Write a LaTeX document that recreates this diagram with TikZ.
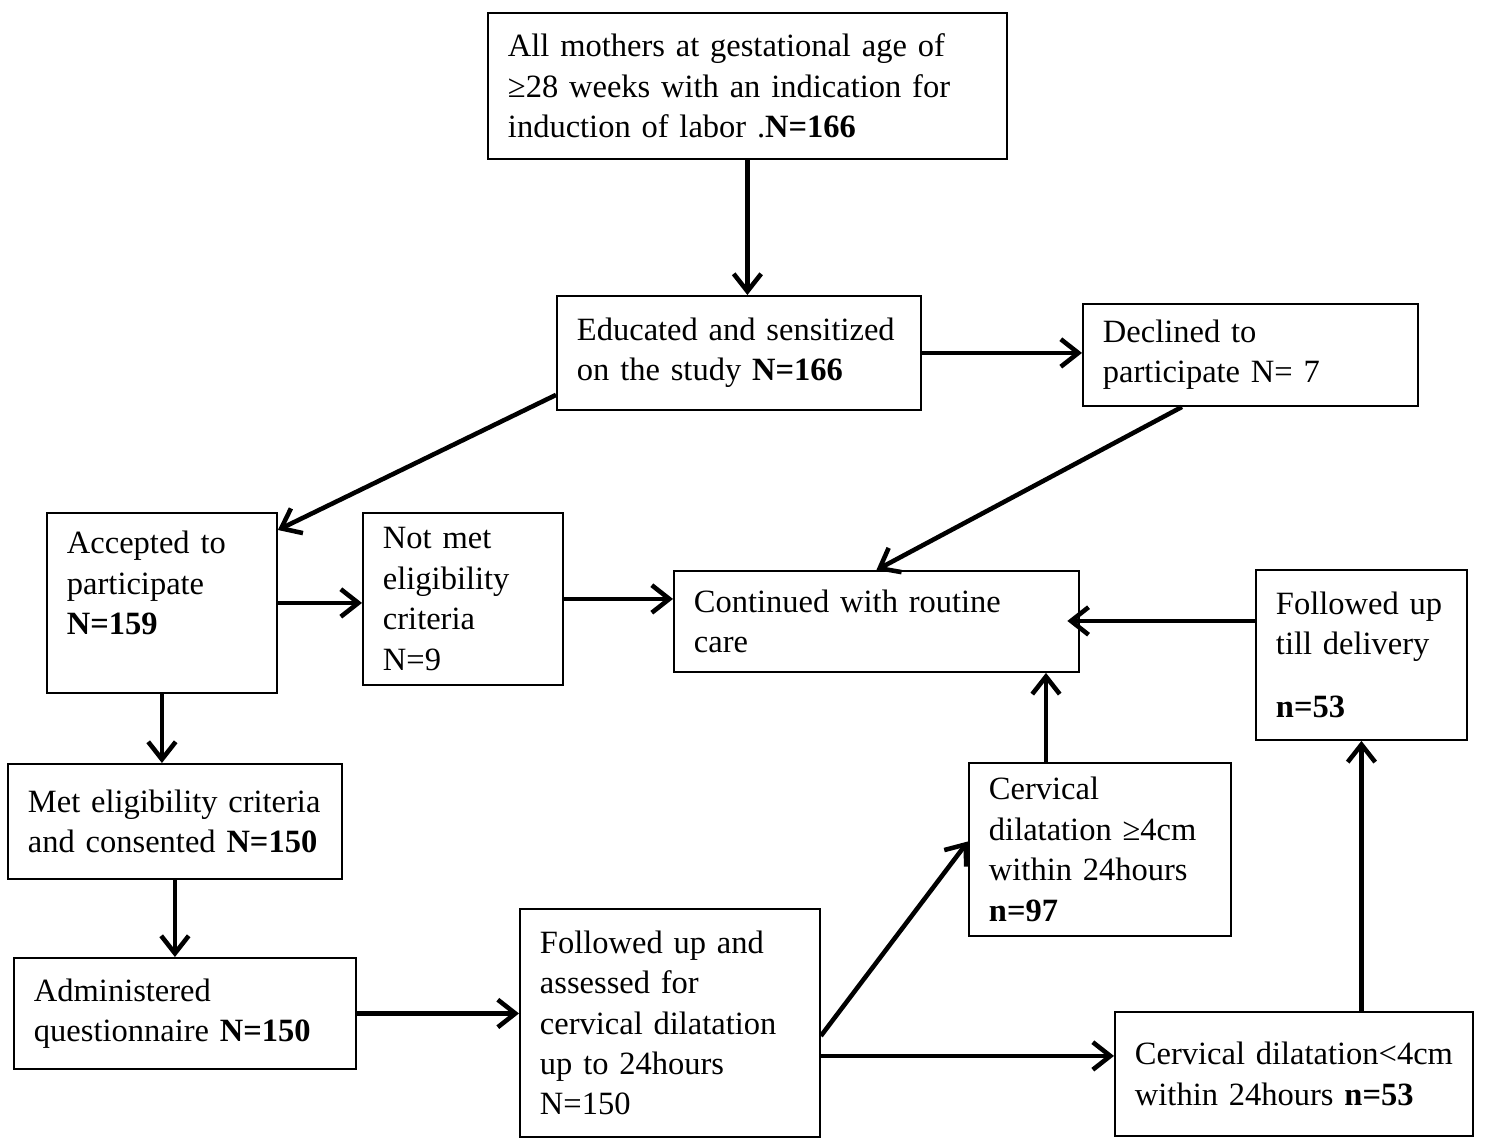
\documentclass[tikz,border=0pt]{standalone}
\usepackage{fontspec}
\setmainfont{Liberation Serif}
\usetikzlibrary{arrows.meta}

\tikzstyle{flowbox}=[draw,
                     line width=1.1pt,
                     anchor=north west,
                     align=left,
                     inner xsep=0.4cm,
                     inner ysep=0pt,
                     font=\fontsize{18.5}{23}\selectfont]
\tikzstyle{flowarrow}=[line width=2.6pt,
                       -{Straight Barb[length=3.5mm,width=5.5mm]}]

\begin{document}
\begin{tikzpicture}[x=0.02cm,y=-0.02cm]
    \useasboundingbox (0,0) rectangle (1492,1138);
    % boxes, placed at their top left corners
    \node [flowbox, text width=9.58cm, minimum height=2.92cm] (mothers) at (487,12)
        {All mothers at gestational age of\\ ≥28 weeks with an indication for\\ induction of labor .\textbf{N=166}};
    \node [flowbox, text width=6.48cm, minimum height=2.28cm] (educated) at (556,295)
        {Educated and sensitized\\ on the study \textbf{N=166}};
    \node [flowbox, text width=5.90cm, minimum height=2.04cm] (declined) at (1082,303)
        {Declined to\\ participate N= 7};
    \node [flowbox, text width=3.80cm, minimum height=3.60cm] (accepted) at (46,512)
        {Accepted to\\ participate\\ \textbf{N=159}\\ \mbox{}};
    \node [flowbox, text width=3.20cm, minimum height=3.44cm] (notmet) at (362,512)
        {Not met\\ eligibility\\ criteria\\ N=9};
    \node [flowbox, text width=7.30cm, minimum height=2.02cm] (routine) at (673,570)
        {Continued with routine\\ care};
    \node [flowbox, text width=3.42cm, minimum height=3.40cm] (tilldelivery) at (1255,569)
        {Followed up\\ till delivery\\[0.45cm] \textbf{n=53}};
    \node [flowbox, text width=5.88cm, minimum height=2.30cm] (metcrit) at (7,763)
        {\mbox{Met eligibility criteria}\\ and consented \textbf{N=150}};
    \node [flowbox, text width=6.04cm, minimum height=2.22cm] (questionnaire) at (13,957)
        {Administered\\ questionnaire \textbf{N=150}};
    \node [flowbox, text width=5.20cm, minimum height=4.56cm] (assessed) at (519,908)
        {Followed up and\\ assessed for\\ cervical dilatation\\ up to 24hours\\ N=150};
    \node [flowbox, text width=4.44cm, minimum height=3.46cm] (dilgeq) at (968,762)
        {Cervical\\ dilatation ≥4cm\\ within 24hours\\ \textbf{n=97}};
    \node [flowbox, text width=6.36cm, minimum height=2.48cm] (dillt) at (1114,1011)
        {\mbox{Cervical dilatation<4cm}\\ within 24hours \textbf{n=53}};

    % connectors
    \draw [flowarrow] (mothers.south) -- (mothers.south |- educated.north);
    \draw [flowarrow] (educated.east) -- (educated.east -| declined.west);
    \draw [flowarrow] ([yshift=0.32cm]educated.south west) -- ([yshift=-0.36cm]accepted.north east);
    \draw [flowarrow] ([xshift=2cm]declined.south west) -- (routine.north);
    \draw [flowarrow] (accepted.east) -- (accepted.east -| notmet.west);
    \draw [flowarrow] (notmet.east) -- (notmet.east -| routine.west);
    \draw [flowarrow] ([yshift=0.68cm]tilldelivery.west) -- ([yshift=0.68cm,xshift=-0.25cm]tilldelivery.west -| routine.east);
    \draw [flowarrow] (accepted.south) -- (accepted.south |- metcrit.north);
    \draw [flowarrow] (metcrit.south) -- (metcrit.south |- questionnaire.north);
    \draw [flowarrow] (questionnaire.east) -- (questionnaire.east -| assessed.west);
    \draw [flowarrow] ([yshift=-0.26cm]assessed.east) -- ([yshift=0.16cm]dilgeq.west);
    \draw [flowarrow] ([yshift=-0.66cm]assessed.east) -- ([yshift=-0.66cm]assessed.east -| dillt.west);
    \draw [flowarrow] ([xshift=1.56cm]dilgeq.north west) -- ([xshift=1.56cm]dilgeq.north west |- routine.south);
    \draw [flowarrow] (tilldelivery.south |- dillt.north) -- (tilldelivery.south);
\end{tikzpicture}
\end{document}
